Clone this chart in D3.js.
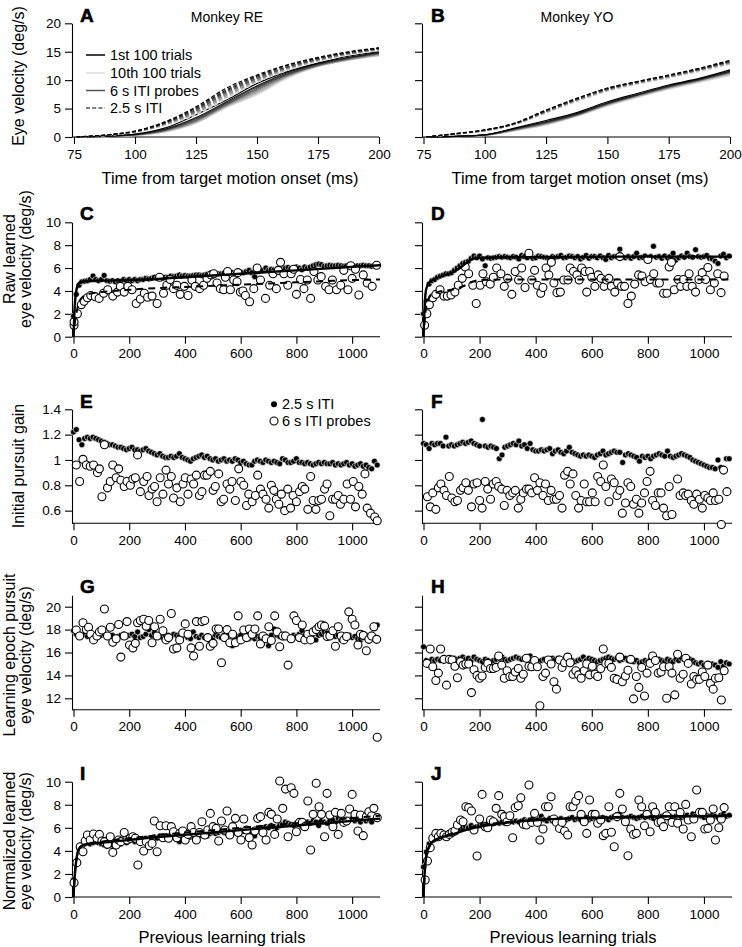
<!DOCTYPE html>
<html><head><meta charset="utf-8">
<script src="https://cdn.jsdelivr.net/npm/d3@7"></script>
<style>
body{margin:0;background:#fff}
svg{display:block}
text{font-family:"Liberation Sans",Arial,Helvetica,sans-serif;fill:#000}
</style>
</head><body><script>
// ---------------- DATA ----------------
const timeTicks = [75,100,125,150,175,200];
const trialTicks = [0,200,400,600,800,1000];
const tA = [76,90,100,112.5,125,137.5,150,162.5,175,187.5,200];
const blockNames = ["1st 100 trials","10th 100 trials","6 s ITI probes","2.5 s ITI"];

// Panel A: eye velocity traces per 100-trial block (blocks 1..10)
const aDashed = [
 [0,0.45,1.05,2.7,5.3,8.6,10.9,12.7,14.0,15.0,15.7],
 [0,0.42,1.0,2.6,5.1,8.3,10.7,12.6,13.9,14.9,15.6],
 [0,0.4,0.98,2.5,4.9,8.1,10.5,12.4,13.8,14.8,15.6],
 [0,0.4,0.95,2.45,4.7,7.9,10.3,12.3,13.7,14.8,15.5],
 [0,0.38,0.92,2.4,4.6,7.7,10.2,12.2,13.6,14.7,15.5],
 [0,0.37,0.9,2.3,4.4,7.5,10.0,12.1,13.6,14.6,15.4],
 [0,0.36,0.88,2.25,4.3,7.3,9.9,12.0,13.5,14.6,15.4],
 [0,0.35,0.86,2.2,4.2,7.1,9.8,11.9,13.4,14.5,15.3],
 [0,0.34,0.84,2.15,4.05,6.9,9.7,11.8,13.4,14.5,15.3],
 [0,0.33,0.82,2.1,3.9,6.7,9.6,11.7,13.3,14.4,15.2]];
const aSolid = [
 [0,0.2,0.5,1.6,3.9,6.5,9.4,11.5,13.0,14.2,15.0],
 [0,0.18,0.45,1.4,3.4,6.2,9.0,11.3,12.9,14.0,14.9],
 [0,0.17,0.42,1.3,3.2,6.0,8.8,11.1,12.8,13.9,14.8],
 [0,0.16,0.4,1.25,3.0,5.8,8.6,11.0,12.7,13.8,14.7],
 [0,0.15,0.38,1.2,2.9,5.7,8.4,10.9,12.6,13.8,14.6],
 [0,0.14,0.36,1.1,2.8,5.6,8.2,10.8,12.6,13.7,14.6],
 [0,0.13,0.34,1.05,2.7,5.5,8.0,10.7,12.5,13.6,14.5],
 [0,0.12,0.32,1.0,2.6,5.4,7.8,10.6,12.5,13.6,14.4],
 [0,0.11,0.3,0.95,2.5,5.3,7.6,10.5,12.4,13.5,14.3],
 [0,0.1,0.28,0.9,2.4,5.2,7.4,10.3,12.4,13.5,14.3]];
// Panel B
const bDashed = [
 [0,0.7,1.25,2.5,4.75,6.8,8.6,9.8,10.9,12.1,13.5],
 [0,0.68,1.22,2.45,4.7,6.75,8.55,9.75,10.85,12.0,13.4],
 [0,0.66,1.2,2.4,4.6,6.7,8.5,9.7,10.8,11.95,13.3],
 [0,0.65,1.18,2.38,4.55,6.6,8.4,9.65,10.75,11.9,13.25],
 [0,0.64,1.16,2.35,4.5,6.55,8.35,9.6,10.7,11.85,13.2],
 [0,0.62,1.14,2.32,4.45,6.5,8.3,9.55,10.6,11.8,13.1],
 [0,0.6,1.12,2.3,4.4,6.45,8.25,9.5,10.55,11.75,13.0],
 [0,0.58,1.1,2.28,4.35,6.4,8.2,9.45,10.5,11.7,12.95],
 [0,0.57,1.08,2.25,4.3,6.3,8.1,9.4,10.45,11.6,12.85],
 [0,0.55,1.05,2.2,4.2,6.2,8.0,9.3,10.35,11.5,12.75]];
const bSolid = [
 [0,0.15,0.4,1.6,2.9,4.3,6.2,7.7,9.15,10.3,11.8],
 [0,0.14,0.38,1.5,2.7,4.1,6.0,7.5,9.0,10.2,11.6],
 [0,0.13,0.36,1.45,2.6,4.0,5.9,7.45,8.9,10.1,11.5],
 [0,0.12,0.35,1.4,2.5,3.95,5.85,7.4,8.85,10.05,11.4],
 [0,0.12,0.34,1.35,2.45,3.9,5.8,7.35,8.8,10.0,11.35],
 [0,0.11,0.33,1.3,2.4,3.85,5.75,7.3,8.7,9.95,11.3],
 [0,0.1,0.32,1.25,2.35,3.8,5.7,7.2,8.65,9.9,11.2],
 [0,0.1,0.31,1.2,2.3,3.75,5.6,7.15,8.6,9.8,11.1],
 [0,0.09,0.3,1.15,2.2,3.7,5.5,7.1,8.5,9.7,11.0],
 [0,0.08,0.28,1.1,2.1,3.6,5.45,7.0,8.4,9.6,10.8]];

// trial positions of the 2.5 s ITI (filled) points
const trials = d3.range(0, 1100, 10);

const cFilled = [1.8,3.7,4.5,4.8,4.85,4.9,5.0,5.3,5.0,4.9, 5.0,5.35,4.9,4.85,4.9,4.8,4.9,4.85,5.0,4.9,
 5.0,4.9,5.0,4.9,5.0,5.0,5.1,5.05,5.1,5.2, 5.1,5.15,5.1,5.2,5.2,5.3,5.25,5.3,5.4,5.3,
 5.35,5.3,5.3,5.35,5.4,5.4,5.35,5.4,5.45,5.5, 5.5,5.45,5.5,5.5,5.55,5.5,5.6,5.6,5.5,5.6,
 5.65,5.6,5.7,5.8,5.6,5.25,5.7,5.75,5.8,6.0, 5.8,5.9,5.85,5.9,5.95,5.9,6.0,6.05,5.95,6.0,
 6.1,6.0,5.85,6.1,6.0,6.1,6.2,6.3,6.35,6.3, 6.15,6.2,6.25,6.2,6.2,6.25,6.2,6.15,6.2,6.25,
 6.2,6.15,6.2,6.2,6.25,6.2,6.2,6.15,6.2,6.2];
const dFilled = [2.0,3.1,4.6,4.9,5.0,5.2,5.3,5.4,5.5,5.5, 5.6,5.8,6.0,6.2,6.4,6.5,6.6,6.85,7.05,6.9,
 7.05,6.8,6.2,6.9,6.85,6.9,6.95,7.0,6.95,7.0, 6.95,6.9,7.0,6.95,6.8,7.1,7.0,6.9,7.2,6.85,
 6.9,7.05,7.0,6.95,6.9,6.8,7.0,6.95,7.0,7.1, 6.9,6.95,7.05,7.0,6.9,7.0,6.8,6.95,7.1,6.85,
 7.0,7.0,6.9,7.05,6.9,6.75,7.1,6.9,7.0,7.0, 7.65,6.95,6.9,7.0,6.85,7.0,7.3,6.9,6.95,7.05,
 6.85,7.0,7.9,6.95,7.0,6.85,7.05,6.9,7.0,7.3, 6.7,6.9,7.05,6.95,7.3,7.0,6.95,7.6,7.0,6.95,
 7.0,7.1,6.85,6.8,6.6,6.4,7.05,7.2,6.9,7.05];
const eFilled = [1.22,1.24,1.16,1.12,1.17,1.18,1.17,1.18,1.17,1.16, 1.15,1.14,1.13,1.12,1.12,1.11,1.10,1.10,1.09,1.08,
 1.09,1.10,1.08,1.08,1.07,1.08,1.09,1.07,1.06,1.05, 1.04,1.05,1.03,1.02,1.02,1.03,1.02,1.03,1.05,1.02,
 1.01,1.00,0.99,1.01,1.02,1.03,1.04,1.02,1.03,1.01, 1.00,1.01,0.99,1.00,1.01,0.99,1.00,0.99,1.01,1.00,
 0.98,0.99,0.97,0.96,0.96,0.99,1.00,0.99,0.98,1.00, 0.99,0.98,0.99,0.98,0.97,1.01,1.00,0.98,0.98,0.99,
 1.01,0.98,0.98,0.97,0.98,0.97,0.96,0.97,0.98,0.97, 0.98,0.97,0.97,0.98,0.96,0.97,0.96,0.97,0.98,0.96,
 0.97,0.95,0.96,0.97,0.95,0.96,0.94,0.93,0.99,0.96];
const fFilled = [1.13,1.12,1.09,1.13,1.12,1.13,1.13,1.11,1.18,1.11, 1.12,1.11,1.12,1.13,1.14,1.13,1.14,1.15,1.13,1.12,
 1.11,1.32,1.11,1.10,1.11,1.10,1.09,1.01,1.04,1.10, 1.11,1.12,1.13,1.12,1.15,1.11,1.12,1.09,1.13,1.08,
 1.07,1.07,1.08,1.07,1.08,1.09,1.05,1.07,1.08,1.06, 1.05,1.07,1.10,1.06,1.05,1.04,1.03,1.04,1.03,1.04,
 1.03,1.02,1.04,1.05,1.07,1.04,1.05,1.06,1.07,1.06, 1.06,0.98,1.04,1.05,1.04,1.03,1.02,0.99,1.03,1.02,
 1.03,1.01,1.03,1.04,1.05,1.04,1.03,1.07,1.03,1.02, 1.03,1.04,1.05,1.04,1.03,1.02,1.00,0.99,0.98,0.97,
 0.96,0.95,0.94,0.94,0.93,1.00,0.94,0.93,1.01,1.01];
const gFilled = [17.9,17.6,17.5,17.5,17.6,17.4,17.5,17.3,17.4,17.6, 17.5,17.6,17.4,17.3,17.5,17.2,17.4,17.5,17.6,17.4,
 17.5,17.6,17.4,17.8,17.3,17.4,17.6,18.0,17.5,17.7, 17.5,17.4,17.3,17.4,17.5,17.4,17.6,17.5,17.4,17.6,
 17.5,17.3,17.2,17.8,17.4,17.3,17.5,17.3,17.4,17.2, 17.3,17.5,17.4,17.3,17.5,17.4,17.6,16.6,17.3,17.4,
 17.5,17.2,17.5,17.2,17.3,17.2,17.4,17.3,17.5,17.4, 16.6,17.5,18.05,17.5,17.4,17.3,17.6,17.4,17.1,17.5,
 17.4,17.6,17.9,17.5,17.4,17.3,17.2,17.1,17.5,17.6, 17.8,17.7,17.5,17.6,17.4,17.5,17.1,17.3,17.4,17.5,
 17.3,17.4,17.2,17.1,17.3,17.5,17.4,17.6,18.1,18.4];
const hFilled = [16.5,15.3,15.2,15.4,15.3,15.4,15.3,15.5,15.4,15.3, 15.4,15.5,15.4,15.5,15.6,15.4,15.5,15.3,15.6,15.4,
 15.3,15.2,15.4,15.3,15.2,15.3,15.4,15.5,15.6,15.4, 15.3,15.4,15.5,15.6,15.5,15.4,15.5,15.6,15.7,15.4,
 15.3,15.2,15.3,15.4,15.3,15.4,15.5,15.4,15.5,15.3, 15.2,15.3,15.4,15.3,15.2,15.3,15.4,15.6,15.3,15.5,
 15.4,15.3,15.2,15.3,15.4,15.5,15.6,15.5,15.4,15.5, 15.3,15.4,15.5,15.3,15.4,15.2,15.3,15.1,15.2,15.3,
 15.2,15.4,15.5,15.3,15.4,15.3,15.2,15.4,15.3,15.2, 15.4,15.3,15.5,15.4,15.3,15.4,15.3,15.1,15.0,15.1,
 14.9,15.0,14.8,15.0,14.9,14.7,15.2,14.8,15.1,15.0];
const iFilled = [1.5,3.0,4.2,4.5,4.6,4.7,4.6,4.7,4.8,4.7, 4.6,4.5,4.4,4.6,4.5,4.6,4.7,4.6,4.8,4.7,
 4.9,5.0,4.8,4.9,5.0,4.9,5.1,5.0,5.1,5.2, 5.1,5.3,5.2,5.1,5.3,5.4,5.2,5.0,4.8,5.2,
 5.3,5.4,5.2,5.3,5.4,5.3,5.5,5.4,5.3,5.5, 5.6,5.5,5.6,5.7,5.6,5.5,5.7,5.8,5.6,5.7,
 5.8,5.7,5.9,5.8,5.6,5.3,5.9,6.0,5.9,6.1, 6.0,6.2,6.1,6.0,6.2,6.3,6.5,6.4,6.3,6.2,
 6.4,6.3,6.1,6.3,6.5,6.4,6.6,6.5,6.2,6.6, 6.5,6.4,6.6,6.7,6.5,6.8,6.6,6.7,6.5,6.7,
 6.8,6.6,6.7,6.5,6.8,6.6,6.7,6.5,6.9,6.8];
const jFilled = [2.6,3.9,4.6,4.9,5.0,5.1,5.2,5.3,5.2,5.3, 5.4,5.6,5.8,5.9,6.0,6.1,6.0,6.2,6.0,6.1,
 6.2,6.3,6.2,6.4,6.3,6.4,6.5,6.4,6.5,6.4, 6.5,6.6,6.5,6.6,6.5,6.6,6.7,6.6,6.7,6.8,
 6.6,6.7,7.0,6.7,6.6,6.8,6.6,6.5,6.7,6.8, 6.6,6.7,6.8,6.9,6.7,6.8,6.7,7.0,6.9,6.7,
 6.8,6.9,6.7,6.8,6.9,6.8,6.7,6.9,7.0,6.8, 7.2,6.9,6.8,6.9,7.0,6.9,6.8,6.9,7.0,6.9,
 7.0,6.9,6.8,7.0,6.9,7.0,7.1,6.9,7.0,6.9, 7.0,7.1,6.9,7.0,7.1,6.9,7.2,7.0,7.1,7.0,
 6.9,7.1,7.0,7.1,7.0,6.9,7.1,7.2,7.0,7.1];

// 6 s ITI probe trials: [trial, value]
const cOpen = [[2,1.0],[2,1.3],[14,2.0],[28,2.8],[38,3.1],[50,3.4],[62,3.6],[78,3.5],[92,3.35],[108,3.8],[123,4.1],[141,3.55],[158,3.9],[168,4.4],[182,3.9],[195,4.4],[210,4.1],[225,2.9],[240,3.3],[254,3.8],[266,3.45],[282,3.55],[300,2.9],[309,5.2],[323,3.8],[335,4.5],[347,5.0],[359,4.2],[371,4.5],[383,3.7],[398,4.4],[411,3.6],[425,4.95],[437,4.4],[453,4.2],[467,4.5],[479,5.1],[494,5.4],[503,5.5],[515,4.7],[527,4.2],[539,4.1],[545,5.2],[553,5.7],[563,4.1],[575,4.95],[587,4.8],[590,5.6],[599,3.9],[608,4.0],[617,3.6],[632,3.05],[647,4.2],[659,6.0],[671,4.95],[689,3.35],[704,4.5],[716,5.5],[728,4.2],[735,5.8],[743,6.5],[755,5.5],[769,4.5],[781,5.5],[790,5.9],[800,3.7],[815,5.0],[827,4.2],[839,4.95],[851,3.35],[863,5.7],[877,4.95],[889,5.25],[905,4.4],[917,4.1],[929,4.95],[944,4.1],[959,4.5],[970,5.8],[985,4.1],[995,6.2],[1000,5.1],[1012,5.9],[1024,3.65],[1040,5.4],[1054,4.7],[1072,4.4],[1088,6.25]];
const dOpen = [[4,1.0],[12,2.0],[21,2.8],[33,3.4],[44,3.7],[59,4.1],[73,3.55],[85,3.55],[98,3.65],[112,3.9],[124,4.5],[138,5.1],[149,6.1],[161,5.5],[176,4.5],[188,2.9],[202,4.5],[212,5.5],[224,4.8],[238,4.6],[249,5.2],[261,6.0],[276,5.5],[288,4.4],[300,5.1],[315,3.7],[327,5.7],[339,4.95],[350,6.0],[362,4.3],[376,7.3],[386,4.95],[396,5.8],[406,4.5],[418,3.8],[426,4.3],[437,6.0],[447,5.4],[456,6.5],[465,4.7],[476,3.85],[488,3.9],[500,4.95],[515,4.95],[523,6.0],[535,5.7],[547,5.4],[555,4.95],[564,6.0],[576,5.7],[582,3.9],[592,5.7],[600,5.2],[611,4.4],[623,5.4],[633,5.1],[644,4.4],[653,4.95],[661,5.1],[670,4.4],[682,3.9],[692,4.7],[700,7.0],[706,4.4],[717,4.4],[729,2.9],[741,3.55],[753,4.6],[767,5.4],[779,5.3],[790,4.8],[800,6.75],[809,5.0],[821,5.5],[832,4.7],[841,4.7],[856,3.8],[868,3.8],[876,6.1],[884,6.5],[894,4.1],[908,5.0],[917,4.4],[927,5.0],[939,4.4],[947,5.5],[958,4.4],[970,3.9],[982,5.0],[994,5.6],[1006,5.0],[1014,6.05],[1023,4.1],[1037,4.7],[1049,5.5],[1061,3.85],[1072,5.3]];
const eOpen = [[10,0.96],[22,0.83],[34,1.005],[46,0.96],[60,0.95],[72,0.96],[86,0.90],[93,0.93],[102,0.71],[111,1.12],[122,0.78],[132,0.83],[141,0.96],[153,0.86],[162,0.93],[170,0.84],[182,0.79],[192,0.83],[204,0.80],[213,0.85],[222,0.86],[230,1.04],[240,0.75],[252,0.83],[264,0.87],[271,0.72],[282,0.77],[291,0.79],[300,0.67],[311,0.86],[321,0.73],[332,0.92],[341,0.81],[351,0.87],[359,0.70],[371,0.78],[383,0.67],[393,0.81],[401,0.86],[411,0.73],[422,0.85],[431,0.81],[441,0.88],[452,0.72],[461,0.75],[470,0.88],[479,0.88],[491,0.91],[501,0.76],[509,0.79],[521,0.89],[530,0.67],[539,0.69],[551,0.81],[561,0.77],[569,0.83],[581,0.68],[593,0.93],[601,0.83],[611,0.80],[621,0.64],[629,0.73],[641,0.67],[653,0.72],[661,0.88],[671,0.77],[680,0.73],[691,0.69],[701,0.62],[710,0.80],[719,0.76],[728,0.69],[737,0.65],[746,0.73],[758,0.60],[769,0.77],[779,0.62],[788,0.72],[800,0.67],[811,0.75],[821,0.79],[830,0.77],[841,0.61],[851,0.87],[860,0.68],[870,0.61],[880,0.68],[890,0.69],[901,0.77],[910,0.81],[920,0.56],[930,0.69],[940,0.69],[950,0.72],[958,0.65],[970,0.69],[982,0.81],[994,0.69],[1004,0.83],[1012,0.63],[1024,0.79],[1036,0.73],[1046,0.89],[1054,0.62],[1066,0.58],[1081,0.55],[1090,0.52]];
const fOpen = [[14,0.71],[24,0.63],[33,0.74],[44,0.61],[53,0.78],[62,0.81],[73,0.76],[82,0.72],[92,0.87],[101,0.70],[112,0.67],[121,0.68],[132,0.76],[141,0.78],[151,0.82],[160,0.76],[171,0.63],[180,0.81],[191,0.82],[200,0.68],[209,0.62],[220,0.83],[229,0.77],[239,0.69],[249,0.81],[259,0.83],[268,0.79],[279,0.77],[288,0.64],[298,0.76],[308,0.72],[318,0.74],[327,0.76],[338,0.62],[347,0.69],[356,0.74],[367,0.77],[376,0.77],[386,0.74],[396,0.86],[406,0.76],[415,0.82],[426,0.72],[435,0.81],[445,0.68],[455,0.76],[465,0.69],[474,0.69],[485,0.72],[494,0.62],[503,0.88],[514,0.91],[523,0.81],[533,0.89],[543,0.72],[553,0.62],[562,0.68],[573,0.81],[582,0.67],[592,0.67],[602,0.74],[612,0.67],[621,0.87],[632,0.83],[641,0.96],[650,0.79],[661,0.67],[670,0.85],[680,0.82],[690,0.72],[700,0.76],[709,0.58],[720,0.66],[729,0.82],[739,0.79],[749,0.65],[759,0.69],[768,0.58],[778,0.66],[788,0.74],[797,0.83],[808,0.91],[817,0.68],[827,0.64],[837,0.74],[847,0.74],[856,0.62],[867,0.56],[876,0.79],[886,0.57],[906,0.85],[915,0.72],[926,0.74],[935,0.72],[944,0.73],[955,0.68],[964,0.65],[974,0.73],[984,0.69],[994,0.62],[1003,0.72],[1014,0.70],[1023,0.68],[1033,0.74],[1041,0.68],[1053,0.69],[1062,0.49],[1070,0.92],[1082,0.75]];
const gOpen = [[10,17.96],[22,17.44],[34,18.6],[46,18.0],[54,18.2],[62,17.6],[72,17.1],[84,17.44],[93,17.8],[102,17.96],[111,19.8],[122,17.44],[132,18.2],[141,16.9],[153,17.2],[162,18.45],[170,15.6],[182,17.44],[192,18.7],[201,16.65],[213,16.4],[222,16.8],[230,18.6],[240,18.8],[252,18.9],[261,18.3],[270,18.8],[282,16.85],[291,18.25],[300,17.44],[311,18.9],[321,17.9],[332,17.1],[341,17.3],[351,19.4],[359,16.3],[371,16.4],[381,17.1],[392,17.7],[401,18.5],[411,17.6],[422,16.4],[431,15.7],[441,18.7],[452,16.55],[461,18.7],[471,18.8],[482,17.3],[491,16.55],[501,16.8],[512,18.05],[521,18.05],[531,15.1],[542,17.3],[551,18.0],[561,16.85],[571,17.6],[581,16.85],[591,19.2],[601,17.1],[611,17.96],[621,17.3],[631,18.05],[641,17.6],[651,18.05],[661,19.2],[671,16.75],[680,17.44],[691,17.2],[701,18.25],[710,17.05],[722,19.2],[731,17.8],[740,16.5],[751,17.44],[761,17.44],[770,14.9],[781,17.2],[791,19.2],[800,18.8],[811,17.3],[821,18.4],[830,17.1],[841,17.6],[851,17.1],[860,17.8],[871,18.0],[881,18.25],[890,18.4],[901,18.3],[910,17.4],[920,17.44],[931,17.9],[940,16.55],[950,18.25],[961,17.44],[970,17.1],[980,17.4],[988,19.55],[1000,18.9],[1010,18.4],[1021,16.65],[1030,17.6],[1040,17.5],[1051,16.15],[1060,17.15],[1070,17.44],[1078,18.25],[1088,17.15],[1090,8.6]];
const hOpen = [[12,15.05],[24,16.3],[33,14.75],[44,13.55],[53,14.2],[61,16.3],[73,15.4],[82,13.15],[92,15.4],[102,15.35],[112,14.8],[121,13.8],[132,15.2],[141,14.9],[151,15.0],[161,15.0],[171,12.5],[180,14.5],[191,14.0],[200,13.75],[209,13.95],[220,14.7],[229,15.05],[239,14.6],[249,14.6],[259,14.7],[268,15.7],[279,14.9],[288,13.75],[298,14.4],[308,13.9],[318,13.9],[327,14.3],[338,14.6],[347,13.75],[356,14.1],[367,15.5],[376,14.8],[386,14.75],[396,15.3],[406,14.75],[415,11.35],[426,13.9],[435,14.2],[445,15.35],[455,15.0],[465,13.45],[474,12.8],[485,15.35],[494,14.7],[503,15.1],[514,15.6],[523,15.1],[533,14.1],[543,14.4],[553,14.05],[562,13.75],[573,14.4],[582,15.0],[592,14.05],[602,14.8],[612,14.1],[621,13.9],[632,14.6],[641,16.3],[650,15.05],[661,15.05],[670,14.7],[680,13.75],[690,13.65],[700,15.6],[709,13.45],[720,13.95],[729,14.45],[739,15.4],[749,11.95],[759,13.9],[768,12.95],[778,14.7],[788,12.2],[797,14.2],[808,15.05],[817,15.7],[827,15.3],[837,14.2],[847,14.3],[856,14.75],[867,12.0],[876,14.75],[886,14.2],[896,12.3],[906,15.85],[915,13.75],[926,14.1],[935,15.5],[944,15.05],[955,13.25],[964,13.9],[974,13.65],[984,13.65],[994,14.3],[1003,13.9],[1014,14.9],[1023,13.3],[1033,12.8],[1041,13.75],[1053,13.8],[1062,11.85],[1072,14.4]];
const iOpen = [[2,1.24],[12,2.98],[24,4.36],[34,3.93],[42,4.86],[50,5.38],[60,4.94],[72,5.46],[84,5.09],[93,5.43],[102,4.86],[111,4.8],[122,4.57],[132,5.23],[141,3.87],[153,4.51],[162,4.94],[170,4.8],[182,5.6],[192,4.94],[204,5.09],[213,5.23],[222,5.09],[231,2.77],[240,4.8],[252,3.99],[261,4.8],[272,4.45],[282,4.65],[290,6.59],[300,3.93],[311,6.18],[321,5.14],[332,6.18],[341,5.09],[351,6.1],[359,5.66],[371,5.14],[381,5.52],[392,5.72],[401,4.94],[411,5.43],[422,6.1],[431,5.6],[441,4.94],[452,5.6],[461,6.53],[471,5.38],[482,5.81],[491,7.25],[501,6.1],[512,5.95],[521,4.86],[531,6.59],[542,5.81],[551,7.46],[561,5.38],[571,6.1],[581,6.82],[591,5.6],[601,4.94],[611,6.76],[621,5.81],[631,5.14],[641,4.51],[651,5.72],[661,6.82],[671,6.97],[680,5.6],[691,4.94],[701,7.34],[710,7.17],[722,5.43],[731,6.76],[740,10.06],[751,7.69],[761,9.36],[770,5.23],[781,9.48],[791,8.99],[800,5.66],[811,6.47],[821,6.47],[830,6.1],[841,8.32],[851,4.08],[860,7.17],[871,9.86],[881,7.83],[890,7.17],[901,5.23],[910,8.99],[920,7.11],[931,6.1],[940,7.34],[950,5.43],[961,7.25],[970,6.47],[980,6.59],[991,7.63],[1000,8.9],[1010,7.17],[1021,5.72],[1030,7.11],[1040,5.32],[1051,6.97],[1060,7.4],[1070,7.05],[1078,7.69],[1090,6.88]];
const jOpen = [[6,1.47],[14,3.12],[24,4.28],[33,5.09],[44,5.52],[53,5.23],[62,5.52],[73,5.38],[82,5.23],[92,5.43],[102,5.61],[112,5.72],[121,6.24],[132,6.68],[141,6.53],[151,7.83],[161,7.75],[171,7.46],[180,5.81],[191,3.55],[200,6.76],[209,8.9],[220,6.1],[229,6.01],[239,6.68],[249,6.53],[259,7.69],[268,8.79],[279,7.17],[288,6.97],[298,6.53],[308,7.05],[318,5.14],[327,7.75],[338,7.92],[347,8.61],[356,6.3],[367,6.24],[376,9.71],[386,6.47],[396,7.25],[406,6.47],[415,4.94],[426,5.9],[435,7.83],[445,7.83],[455,8.7],[465,6.76],[474,6.47],[485,5.95],[494,6.47],[503,5.72],[514,5.38],[523,7.83],[533,7.83],[543,8.32],[553,8.79],[562,7.17],[573,6.53],[582,5.52],[592,8.41],[602,7.17],[612,7.17],[621,6.39],[632,6.68],[641,5.32],[650,5.52],[661,7.83],[670,5.61],[680,4.36],[690,6.97],[700,8.99],[709,7.63],[720,6.53],[729,3.58],[739,5.9],[749,5.43],[759,5.52],[768,8.41],[778,7.83],[788,6.18],[797,7.17],[808,5.66],[817,7.83],[827,7.34],[837,6.47],[847,6.53],[856,6.1],[867,7.05],[876,7.83],[886,6.47],[896,7.83],[906,6.39],[915,7.34],[926,5.9],[935,8.03],[944,6.68],[955,5.23],[964,6.76],[974,9.28],[984,7.34],[994,7.34],[1003,5.9],[1014,5.95],[1023,6.68],[1033,7.63],[1041,4.94],[1053,6.01],[1062,6.76],[1072,7.75]];

// fitted curves: trial positions and values
const cFitT = [0,3,6,10,15,20,30,50,100,200,300,400,500,600,700,800,900,1000,1100];
const cFitSolid = [0,2.0,3.2,4.0,4.5,4.7,4.8,4.85,4.9,4.95,5.05,5.2,5.35,5.5,5.65,5.8,5.95,6.1,6.25];
const cFitDash = [0,0.8,1.4,2.0,2.6,3.0,3.4,3.7,3.9,4.1,4.25,4.35,4.45,4.55,4.65,4.75,4.85,4.95,5.0];
const dFitT = [0,3,6,10,20,30,50,100,130,150,175,200,300,500,700,900,1100];
const dFitSolid = [0,2.0,3.4,4.2,4.7,4.9,5.15,5.6,6.0,6.4,6.8,6.9,6.95,6.95,7.0,7.0,7.0];
const dFitDash = [0,1.0,1.9,2.7,3.4,3.7,3.9,4.1,4.3,4.5,4.8,4.95,5.0,5.0,5.0,5.0,5.0];
const iFitT = [0,3,6,10,15,20,30,50,100,200,300,400,500,600,700,800,900,1000,1100];
const iFitSolid = [0,1.3,2.3,3.2,3.9,4.2,4.45,4.6,4.7,4.95,5.2,5.4,5.6,5.8,6.0,6.2,6.4,6.6,6.8];
const iFitDash = [0,1.2,2.2,3.1,3.8,4.15,4.4,4.6,4.8,5.1,5.35,5.6,5.8,6.0,6.2,6.4,6.6,6.85,7.05];
const jFitT = [0,3,6,10,20,30,50,100,150,200,300,400,500,600,700,800,900,1000,1100];
const jFitSolid = [0,1.6,2.7,3.6,4.4,4.75,5.05,5.4,5.8,6.1,6.45,6.65,6.8,6.85,6.9,6.95,7.0,7.0,7.05];
const jFitDash = [0,1.5,2.6,3.5,4.3,4.7,5.0,5.5,5.9,6.2,6.5,6.7,6.8,6.9,6.95,7.0,7.0,7.05,7.1];

// ---------------- DRAWING ----------------
const FONT = '"Liberation Sans", Arial, Helvetica, sans-serif';
const blockGrays = ["#000000","#1e1e1e","#3a3a3a","#555555","#6e6e6e","#878787","#9e9e9e","#b4b4b4","#c9c9c9","#dddddd"];
const svg = d3.select("body").append("svg").attr("width",742).attr("height",947);
const numFmt = d => String(+d.toFixed(2));

const cols = {
  L:{ax:72, xr:[73.5,380], xt:[74,379], lx:80},
  R:{ax:422, xr:[423.5,732], xt:[423.5,730], lx:431}
};
const rows = {
  A:{dom:[0,20], rng:[137,23.3], ticks:[0,5,10,15,20], letterY:22},
  C:{dom:[0,10], rng:[336.7,222.3], ticks:[0,2,4,6,8,10], letterY:220},
  E:{dom:[0.5,1.4], rng:[523.3,409.3], ticks:[0.6,0.8,1,1.2,1.4], letterY:408},
  G:{dom:[11,21], rng:[709.75,595.25], ticks:[12,14,16,18,20], letterY:593},
  I:{dom:[0,10], rng:[897,781.7], ticks:[0,2,4,6,8,10], letterY:780}
};

function styleAxis(g){
  g.selectAll("path,line").attr("stroke","#000").attr("stroke-width",1.1);
  g.selectAll("text").attr("font-size",13.5).attr("font-family",FONT).attr("fill","#1a1a1a");
}

function makePanel(colKey,rowKey,letter,isTime){
  const c = cols[colKey], r = rows[rowKey];
  const x = d3.scaleLinear().domain(isTime?[75,200]:[0,1100]).range(isTime?c.xt:c.xr);
  const y = d3.scaleLinear().domain(r.dom).range(r.rng);
  const g = svg.append("g");
  const ya = d3.axisLeft(y).tickValues(r.ticks).tickSize(7).tickPadding(4).tickSizeOuter(0)
    .tickFormat(colKey==="R" ? "" : numFmt);
  const gy = g.append("g").attr("transform",`translate(${c.ax},0)`).call(ya);
  styleAxis(gy);
  const xa = d3.axisBottom(x).tickValues(isTime?timeTicks:trialTicks).tickSize(7).tickPadding(5)
    .tickSizeOuter(0).tickFormat(numFmt);
  const gx = g.append("g").attr("transform",`translate(0,${r.rng[0]})`).call(xa);
  gx.select(".domain").attr("d",`M${c.ax},0H${x.range()[1]}`);
  styleAxis(gx);
  g.append("text").attr("x",c.lx).attr("y",r.letterY).text(letter)
    .attr("font-size",19).attr("font-weight","bold").attr("font-family",FONT)
    .attr("stroke","#000").attr("stroke-width",0.6);
  return {g,x,y};
}

function drawTraces(p, solid, dashed){
  const line = d3.line().x((d,i)=>p.x(tA[i])).y(d=>p.y(d)).curve(d3.curveMonotoneX);
  for(let k=solid.length-1;k>=0;k--){
    p.g.append("path").attr("d",line(solid[k])).attr("fill","none")
      .attr("stroke",blockGrays[k]).attr("stroke-width",1.2);
  }
  for(let k=dashed.length-1;k>=0;k--){
    p.g.append("path").attr("d",line(dashed[k])).attr("fill","none")
      .attr("stroke",blockGrays[k]).attr("stroke-width",1.2).attr("stroke-dasharray","4,2.2");
  }
}

function drawScatter(p, filled, open, fit){
  p.g.append("g").selectAll("circle").data(filled).join("circle")
    .attr("cx",(d,i)=>p.x(trials[i])).attr("cy",d=>p.y(d)).attr("r",3)
    .attr("fill","#000").attr("stroke","#fff").attr("stroke-width",0.6);
  p.g.append("g").selectAll("circle").data(open).join("circle")
    .attr("cx",d=>p.x(d[0])).attr("cy",d=>p.y(d[1])).attr("r",4)
    .attr("fill","#fff").attr("stroke","#000").attr("stroke-width",1.1);
  if(fit){
    const ln = (T)=>d3.line().x((d,i)=>p.x(T[i])).y(d=>p.y(d)).curve(d3.curveMonotoneX);
    p.g.append("path").attr("d",ln(fit.T)(fit.dash)).attr("fill","none")
      .attr("stroke","#000").attr("stroke-width",2).attr("stroke-dasharray","7,5");
    p.g.append("path").attr("d",ln(fit.T)(fit.solid)).attr("fill","none")
      .attr("stroke","#000").attr("stroke-width",2.4);
  }
}

const pA = makePanel("L","A","A",true); drawTraces(pA,aSolid,aDashed);
const pB = makePanel("R","A","B",true); drawTraces(pB,bSolid,bDashed);
const pC = makePanel("L","C","C"); drawScatter(pC,cFilled,cOpen,{T:cFitT,solid:cFitSolid,dash:cFitDash});
const pD = makePanel("R","C","D"); drawScatter(pD,dFilled,dOpen,{T:dFitT,solid:dFitSolid,dash:dFitDash});
const pE = makePanel("L","E","E"); drawScatter(pE,eFilled,eOpen,null);
const pF = makePanel("R","E","F"); drawScatter(pF,fFilled,fOpen,null);
const pG = makePanel("L","G","G"); drawScatter(pG,gFilled,gOpen,null);
const pH = makePanel("R","G","H"); drawScatter(pH,hFilled,hOpen,null);
const pI = makePanel("L","I","I"); drawScatter(pI,iFilled,iOpen,{T:iFitT,solid:iFitSolid,dash:iFitDash});
const pJ = makePanel("R","I","J"); drawScatter(pJ,jFilled,jOpen,{T:jFitT,solid:jFitSolid,dash:jFitDash});

function txt(x,y,s,size,anchor,rot){
  const t = svg.append("text").attr("font-size",size).attr("font-family",FONT)
    .attr("text-anchor",anchor||"middle").attr("fill","#1a1a1a").text(s);
  if(rot) t.attr("transform",`translate(${x},${y}) rotate(-90)`);
  else t.attr("x",x).attr("y",y);
  return t;
}
txt(227,22,"Monkey RE",14);
txt(577,22,"Monkey YO",14);
txt(230,184,"Time from target motion onset (ms)",16.5);
txt(580,184,"Time from target motion onset (ms)",16.5);
txt(222,943,"Previous learning trials",16.5);
txt(573,943,"Previous learning trials",16.5);
txt(24,76,"Eye velocity (deg/s)",16,"middle",true);
txt(15,259,"Raw learned",16,"middle",true);
txt(31,259,"eye velocity (deg/s)",16,"middle",true);
txt(24,466,"Initial pursuit gain",16,"middle",true);
txt(15,655,"Learning epoch pursuit",16,"middle",true);
txt(31,655,"eye velocity (deg/s)",16,"middle",true);
txt(15,841,"Normalized learned",16,"middle",true);
txt(31,841,"eye velocity (deg/s)",16,"middle",true);

const legA = [
  {name:blockNames[0], color:blockGrays[0], dash:null},
  {name:blockNames[1], color:blockGrays[9], dash:null},
  {name:blockNames[2], color:"#555555", dash:null},
  {name:blockNames[3], color:"#555555", dash:"4,2.2"}];
const legY = [55,73,90.5,108];
legA.forEach((d,i)=>{
  svg.append("line").attr("x1",86).attr("x2",105).attr("y1",legY[i]).attr("y2",legY[i])
    .attr("stroke",d.color).attr("stroke-width",1.5).attr("stroke-dasharray",d.dash);
  txt(110,legY[i]+5,d.name,14.5,"start");
});
svg.append("circle").attr("cx",274).attr("cy",404.3).attr("r",3).attr("fill","#000");
svg.append("circle").attr("cx",274).attr("cy",421).attr("r",4).attr("fill","#fff").attr("stroke","#000").attr("stroke-width",1.1);
txt(282,409.3,"2.5 s ITI",14.5,"start");
txt(282,426,"6 s ITI probes",14.5,"start");
</script></body></html>
